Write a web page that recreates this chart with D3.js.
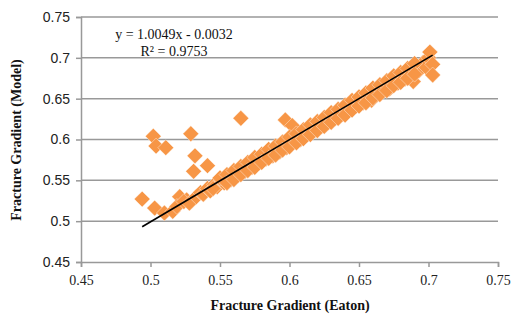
<!DOCTYPE html>
<html>
<head>
<meta charset="utf-8">
<script src="https://cdn.jsdelivr.net/npm/d3@7"></script>
<style>
body { margin: 0; background: #fff; }
svg { display: block; }
</style>
</head>
<body>
<svg id="chart"></svg>
<script>
// ticks
var xTicks = [0.45, 0.5, 0.55, 0.6, 0.65, 0.7, 0.75];
var yTicks = [0.45, 0.5, 0.55, 0.6, 0.65, 0.7, 0.75];

// Eaton (x) vs Model (y)
var eaton = [0.494, 0.502, 0.504, 0.511, 0.503, 0.510, 0.529, 0.532, 0.531, 0.541, 0.565, 0.597, 0.602,
    0.521, 0.526, 0.516, 0.519, 0.524, 0.528, 0.533, 0.536, 0.538, 0.541, 0.543, 0.546, 0.548, 0.551,
    0.553, 0.556, 0.558, 0.561, 0.563, 0.566, 0.568, 0.571, 0.573, 0.576, 0.578, 0.581, 0.583, 0.586,
    0.588, 0.591, 0.593, 0.596, 0.598, 0.601, 0.603, 0.606, 0.608, 0.611, 0.613, 0.616, 0.618, 0.621,
    0.623, 0.626, 0.628, 0.631, 0.633, 0.636, 0.638, 0.641, 0.643, 0.646, 0.648, 0.651, 0.653, 0.656,
    0.658, 0.661, 0.663, 0.666, 0.668, 0.671, 0.673, 0.676, 0.678, 0.681, 0.683, 0.686, 0.688, 0.691,
    0.693, 0.696, 0.698, 0.700, 0.701, 0.703, 0.689, 0.672, 0.659, 0.640, 0.555, 0.545, 0.580, 0.600,
    0.703, 0.550,
    0.555, 0.560, 0.565, 0.570, 0.575, 0.580, 0.585, 0.590, 0.595, 0.600, 0.605, 0.610, 0.615, 0.620,
    0.625, 0.630, 0.635, 0.640, 0.645, 0.650, 0.655, 0.660, 0.665, 0.670, 0.675, 0.680, 0.685, 0.690,
    0.555, 0.560, 0.565, 0.570, 0.575, 0.580, 0.585, 0.590, 0.595, 0.600, 0.605, 0.610, 0.615, 0.620,
    0.625, 0.630, 0.635, 0.640, 0.645, 0.650, 0.655, 0.660, 0.665, 0.670, 0.675, 0.680, 0.685, 0.690];
var model = [0.527, 0.604, 0.592, 0.590, 0.516, 0.510, 0.607, 0.580, 0.561, 0.568, 0.626, 0.624, 0.617,
    0.530, 0.526, 0.512, 0.518, 0.524, 0.522, 0.530, 0.535, 0.533, 0.540, 0.537, 0.545, 0.542, 0.550,
    0.547, 0.555, 0.551, 0.560, 0.556, 0.565, 0.561, 0.570, 0.566, 0.574, 0.571, 0.579, 0.576, 0.584,
    0.580, 0.589, 0.585, 0.594, 0.590, 0.599, 0.597, 0.604, 0.600, 0.610, 0.606, 0.614, 0.611, 0.620,
    0.616, 0.624, 0.621, 0.630, 0.626, 0.634, 0.631, 0.640, 0.636, 0.644, 0.641, 0.650, 0.645, 0.654,
    0.650, 0.660, 0.655, 0.664, 0.660, 0.669, 0.664, 0.674, 0.669, 0.679, 0.674, 0.684, 0.679, 0.689,
    0.684, 0.694, 0.689, 0.700, 0.707, 0.692, 0.671, 0.662, 0.648, 0.633, 0.547, 0.540, 0.573, 0.596,
    0.679, 0.553,
    0.557, 0.562, 0.567, 0.572, 0.578, 0.582, 0.588, 0.592, 0.597, 0.603, 0.607, 0.612, 0.618, 0.622,
    0.627, 0.633, 0.637, 0.642, 0.648, 0.652, 0.657, 0.663, 0.667, 0.672, 0.678, 0.682, 0.687, 0.693,
    0.547, 0.551, 0.557, 0.562, 0.566, 0.572, 0.577, 0.581, 0.587, 0.591, 0.596, 0.601, 0.606, 0.611,
    0.616, 0.621, 0.626, 0.630, 0.636, 0.641, 0.645, 0.651, 0.655, 0.660, 0.666, 0.670, 0.675, 0.680];

var slope = 1.0049, intercept = -0.0032;
var eqText = "y = 1.0049x - 0.0032";
var r2Text = "R² = 0.9753";

var W = 512, H = 318;
var svg = d3.select("#chart").attr("width", W).attr("height", H);

var x = d3.scaleLinear().domain([0.45, 0.75]).range([81, 498]);
var y = d3.scaleLinear().domain([0.45, 0.75]).range([262, 17]);

var grey = "#999";

// gridlines
svg.selectAll(".grid")
    .data(yTicks.slice(1))
    .enter().append("line")
    .attr("class", "grid")
    .attr("x1", x(0.45)).attr("x2", x(0.75))
    .attr("y1", function(d){ return y(d); })
    .attr("y2", function(d){ return y(d); })
    .attr("stroke", grey)
    .attr("stroke-width", 1.5);

// axes
var xAxis = svg.append("g")
    .attr("transform", "translate(0," + y(0.45) + ")")
    .call(d3.axisBottom(x).tickValues(xTicks).tickSize(5).tickPadding(8)
        .tickFormat(function(d){ return d3.format("")(+d.toFixed(2)); }));
var yAxis = svg.append("g")
    .attr("transform", "translate(" + x(0.45) + ",0)")
    .call(d3.axisLeft(y).tickValues(yTicks).tickSize(5).tickPadding(6)
        .tickFormat(function(d){ return d3.format("")(+d.toFixed(2)); }));

[xAxis, yAxis].forEach(function(g){
    g.select(".domain").attr("stroke", grey).attr("stroke-width", 1.5);
    g.selectAll(".tick line").attr("stroke", grey).attr("stroke-width", 1.5);
    g.selectAll(".tick text").attr("fill", "#222");
});
xAxis.selectAll(".tick text")
    .attr("font-family", "'Liberation Serif', 'Times New Roman', serif")
    .attr("font-size", 14);
yAxis.selectAll(".tick text")
    .attr("font-family", "'Liberation Sans', Arial, sans-serif")
    .attr("font-size", 14);

// points
var pts = eaton.map(function(d, i){ return {x: d, y: model[i]}; });
var diamond = d3.symbol().type(d3.symbolDiamond2).size(160);
svg.selectAll(".pt")
    .data(pts)
    .enter().append("path")
    .attr("class", "pt")
    .attr("d", diamond)
    .attr("transform", function(d){ return "translate(" + x(d.x) + "," + y(d.y) + ")"; })
    .attr("fill", "#F79646")
    .attr("stroke", "#fff")
    .attr("stroke-width", 0.4);

// trendline
var xmin = d3.min(eaton), xmax = d3.max(eaton);
svg.append("line")
    .attr("x1", x(xmin)).attr("y1", y(slope * xmin + intercept))
    .attr("x2", x(xmax)).attr("y2", y(slope * xmax + intercept))
    .attr("stroke", "#000")
    .attr("stroke-width", 1.6);

// equation
var serif = "'Liberation Serif', 'Times New Roman', serif";
svg.append("text")
    .attr("x", 174).attr("y", 39)
    .attr("text-anchor", "middle")
    .attr("font-family", serif).attr("font-size", 14)
    .attr("fill", "#111")
    .text(eqText);
svg.append("text")
    .attr("x", 174).attr("y", 56)
    .attr("text-anchor", "middle")
    .attr("font-family", serif).attr("font-size", 14)
    .attr("fill", "#111")
    .text(r2Text);

// axis titles
svg.append("text")
    .attr("x", 290).attr("y", 310)
    .attr("text-anchor", "middle")
    .attr("font-family", serif).attr("font-size", 14).attr("font-weight", "bold")
    .attr("fill", "#111")
    .text("Fracture Gradient (Eaton)");
svg.append("text")
    .attr("transform", "translate(21,140) rotate(-90)")
    .attr("text-anchor", "middle")
    .attr("font-family", serif).attr("font-size", 14).attr("font-weight", "bold")
    .attr("fill", "#111")
    .text("Fracture Gradient (Model)");
</script>
</body>
</html>
